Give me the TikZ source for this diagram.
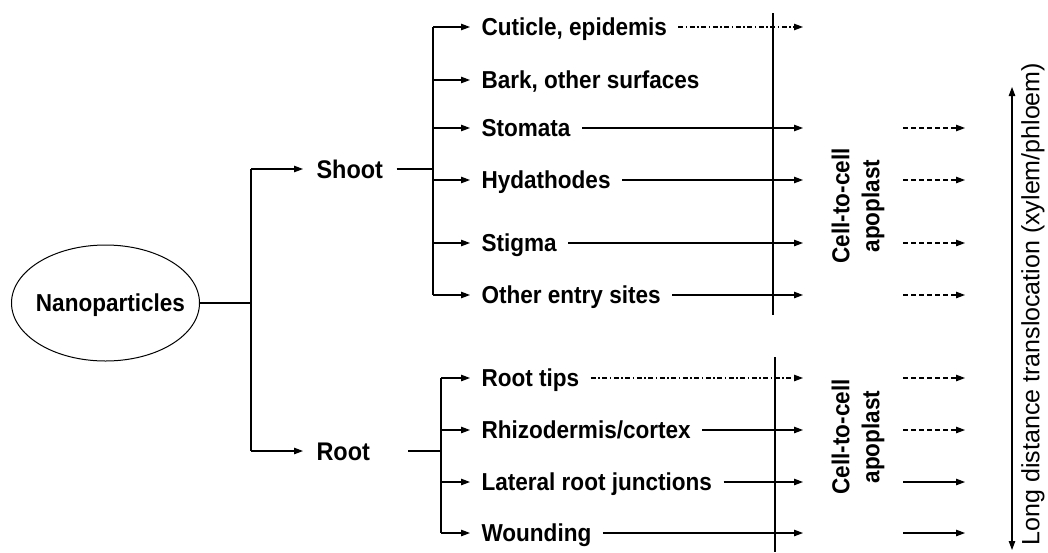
\documentclass[tikz,border=0pt]{standalone}
\usepackage{fontspec}
\setmainfont{Liberation Sans}
\newfontfamily\labfont[FakeStretch=0.92]{Liberation Sans}
\usetikzlibrary{arrows.meta,shapes.geometric}
\begin{document}
\begin{tikzpicture}[x=1pt,y=-1pt,
  line width=1.1pt,
  tip/.tip={Triangle[length=9pt,width=6.5pt]},
  arr/.style={-tip},
  darr/.style={-tip,dash pattern=on 5pt off 3pt},
  ddarr/.style={-tip,dash pattern=on 5pt off 2.5pt on 1.5pt off 2.5pt},
  lbl/.style={font=\labfont\bfseries\fontsize{24.5}{29}\selectfont,anchor=west,
    inner xsep=11pt,inner ysep=0pt,text height=17.5pt,text depth=0pt},
  big/.style={font=\labfont\bfseries\fontsize{25.5}{30}\selectfont,anchor=west,
    inner xsep=13pt,inner ysep=0pt,text height=18pt,text depth=0pt},
  cc/.style={font=\labfont\bfseries\fontsize{24.5}{30}\selectfont,align=center,rotate=90,inner sep=0pt},
  np/.style={ellipse,draw,line width=1pt,minimum width=188pt,minimum height=116pt,inner sep=0pt}
]
\useasboundingbox (0,0) rectangle (1048,552);

% main nodes
\node[np,label={[font=\labfont\bfseries\fontsize{24.5}{29}\selectfont,xshift=5pt,yshift=-2pt]center:Nanoparticles}] (nano) at (105.5,303) {};
\node[big] (shoot) at (303,169) {Shoot};
\node[big] (root) at (303,451) {Root};

% shoot branches
\node[lbl] (cut) at (470,27) {Cuticle, epidemis};
\node[lbl] (bark) at (470,80) {Bark, other surfaces};
\node[lbl] (sto) at (470,128) {Stomata};
\node[lbl] (hyd) at (470,180) {Hydathodes};
\node[lbl] (sti) at (470,243) {Stigma};
\node[lbl] (oth) at (470,295) {Other entry sites};

% root branches
\node[lbl] (rtip) at (470,378) {Root tips};
\node[lbl] (rhiz) at (470,430) {Rhizodermis/cortex};
\node[lbl] (lat) at (470,482) {Lateral root junctions};
\node[lbl] (wnd) at (470,533) {Wounding};

% cell-to-cell labels
\node[cc] (cc1) at (858,206) {Cell-to-cell\\apoplast};
\node[cc] (cc2) at (858,437) {Cell-to-cell\\apoplast};

% long distance
\node[font=\fontsize{25}{30}\selectfont,rotate=90,inner sep=0pt] (ld) at (1033,304)
  {Long distance translocation (xylem/phloem)};

% coordinates
\coordinate (tk) at (251,303);
\coordinate (sj) at (433,169);
\coordinate (rj) at (441,451);
\coordinate (rs) at (408,451);
\coordinate (b1t) at (773,13);
\coordinate (b1b) at (773,315);
\coordinate (b2t) at (775,357);
\coordinate (b2b) at (775,552);
\coordinate (rx) at (803,0);
\coordinate (dx1) at (903,0);
\coordinate (dx2) at (965,0);
\coordinate (lt) at (1012,87);
\coordinate (lb) at (1012,550);

% trunk
\draw (nano.east |- tk) -- (tk);
\draw (tk |- shoot.west) -- (tk |- root.west);
\draw[arr] (tk |- shoot.west) -- (shoot.west);
\draw[arr] (tk |- root.west) -- (root.west);

% shoot tree
\draw (shoot.east) -- (sj);
\draw (sj |- cut.west) -- (sj |- oth.west);
\foreach \n in {cut,bark,sto,hyd,sti,oth}
  \draw[arr] (sj |- \n.west) -- (\n.west);

% root tree
\draw (rs) -- (rj);
\draw (rj |- rtip.west) -- (rj |- wnd.west);
\foreach \n in {rtip,rhiz,lat,wnd}
  \draw[arr] (rj |- \n.west) -- (\n.west);

% barrier lines
\draw (b1t) -- (b1b);
\draw (b2t) -- (b2b);

% arrows across barrier
\draw[ddarr] (cut.east) -- (cut.east -| rx);
\foreach \n in {sto,hyd,sti,oth,rhiz,lat,wnd}
  \draw[arr] (\n.east) -- (\n.east -| rx);
\draw[ddarr] (rtip.east) -- (rtip.east -| rx);

% arrows after cell-to-cell
\foreach \n in {sto,hyd,sti,oth,rtip,rhiz}
  \draw[darr] (\n -| dx1) -- (\n -| dx2);
\foreach \n in {lat,wnd}
  \draw[arr] (\n -| dx1) -- (\n -| dx2);

% long-distance double arrow
\draw[tip-tip] (lt) -- (lb);
\end{tikzpicture}
\end{document}
